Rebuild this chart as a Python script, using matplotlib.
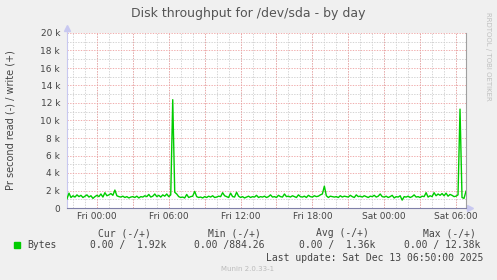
import numpy as np
import matplotlib
matplotlib.use('Agg')
import matplotlib.pyplot as plt
from matplotlib.ticker import FuncFormatter, MultipleLocator

# bytes per second (write), in k, one sample every 10 minutes,
# starting Thu 21:30 (hours relative to Fri 00:00)
start_hour = -2.5
step_hours = 10 / 60.0
write_k = [
    1.05, 1.7, 1.2,
    1.4, 1.25, 1.5, 1.3, 1.45, 1.2,       # Thu 22
    1.35, 1.5, 1.25, 1.4, 1.1, 1.3,       # Thu 23
    1.45, 1.3, 1.6, 1.25, 1.75, 1.4,      # Fri 00
    1.5, 1.65, 1.45, 2.05, 1.4, 1.3,      # Fri 01
    1.25, 1.35, 1.2, 1.3, 1.15, 1.25,     # Fri 02
    1.3, 1.2, 1.35, 1.15, 1.3, 1.25,      # Fri 03
    1.4, 1.3, 1.55, 1.25, 1.35, 1.6,      # Fri 04
    1.3, 1.45, 1.25, 1.5, 1.35, 1.6,      # Fri 05
    1.3, 1.5, 12.38, 1.8, 1.6, 1.3,       # Fri 06
    1.2, 1.25, 1.15, 1.55, 1.2, 1.3,      # Fri 07
    1.35, 1.9, 1.3, 1.2, 1.25, 1.15,      # Fri 08
    1.3, 1.2, 1.35, 1.25, 1.4, 1.2,       # Fri 09
    1.25, 1.35, 1.3, 1.75, 1.4, 1.3,      # Fri 10
    1.2, 1.7, 1.3, 1.25, 1.8, 1.35,       # Fri 11
    1.2, 1.3, 1.15, 1.25, 1.35, 1.2,      # Fri 12
    1.3, 1.25, 1.45, 1.2, 1.3, 1.25,      # Fri 13
    1.35, 1.2, 1.3, 1.5, 1.25, 1.3,       # Fri 14
    1.2, 1.45, 1.3, 1.25, 1.6, 1.3,       # Fri 15
    1.35, 1.25, 1.4, 1.3, 1.2, 1.5,       # Fri 16
    1.3, 1.25, 1.35, 1.2, 1.45, 1.3,      # Fri 17
    1.25, 1.4, 1.3, 1.35, 1.5, 1.6,       # Fri 18
    2.5, 1.4, 1.2, 1.35, 1.3, 1.25,       # Fri 19
    1.3, 1.2, 1.4, 1.25, 1.35, 1.3,       # Fri 20
    1.25, 1.45, 1.3, 1.2, 1.5, 1.3,       # Fri 21
    1.35, 1.25, 1.4, 1.3, 1.2, 1.35,      # Fri 22
    1.3, 1.45, 1.25, 1.35, 1.6, 1.3,      # Fri 23
    1.25, 1.35, 1.2, 1.3, 1.45, 1.15,     # Sat 00
    1.3, 1.25, 1.4, 0.9, 1.3, 1.25,       # Sat 01
    1.35, 1.2, 1.3, 1.5, 1.25, 1.3,       # Sat 02
    1.2, 1.35, 1.3, 1.75, 1.25, 1.4,      # Sat 03
    1.3, 1.75, 1.4, 1.6, 1.45, 1.65,      # Sat 04
    1.4, 1.7, 1.35, 1.55, 1.45, 1.3,      # Sat 05
    1.35, 1.5, 11.3, 1.2, 1.1, 1.92,      # Sat 06
]

xtick_hours = [0, 6, 12, 18, 24, 30]
xtick_labels = ['Fri 00:00', 'Fri 06:00', 'Fri 12:00', 'Fri 18:00', 'Sat 00:00', 'Sat 06:00']

legend_heads = ['Cur (-/+)', 'Min (-/+)', 'Avg (-/+)', 'Max (-/+)']
legend_vals = ['0.00 /  1.92k', '0.00 /884.26', '0.00 /  1.36k', '0.00 / 12.38k']

hours = start_hour + step_hours * np.arange(len(write_k))
values = np.array(write_k) * 1000

W, H = 497, 280
fig = plt.figure(figsize=(W / 100, H / 100), dpi=100, facecolor='#F0F0F0')
ax = fig.add_axes([67 / W, 1 - 208 / H, (466 - 67) / W, (208 - 33) / H])
ax.set_facecolor('white')

txt = '#444444'
ax.plot(hours, values, color='#00CC00', lw=1.0, zorder=3)

ax.set_xlim(start_hour, 30 + 50 / 60)
ax.set_ylim(0, 20000)

# grid like rrdtool: minor gray, major red-ish, dotted
for h in np.arange(-2, 31, 1):
    ax.axvline(h, color='#CCCCCC', lw=0.6, ls=(0, (1.6, 1.6)), zorder=1)
for h in np.arange(0, 31, 3):
    ax.axvline(h, color='#EEA0A0', lw=0.6, ls=(0, (1.6, 1.6)), zorder=2)
for v in np.arange(1000, 20001, 2000):
    ax.axhline(v, color='#CCCCCC', lw=0.6, ls=(0, (1.6, 1.6)), zorder=1)
for v in np.arange(2000, 20001, 2000):
    ax.axhline(v, color='#EEA0A0', lw=0.6, ls=(0, (1.6, 1.6)), zorder=2)

ax.yaxis.set_major_locator(MultipleLocator(2000))
ax.set_xticks(xtick_hours)
ax.set_xticklabels(xtick_labels)
ax.yaxis.set_major_formatter(FuncFormatter(lambda v, p: '0' if v == 0 else '%d k' % (v / 1000)))
ax.tick_params(axis='both', which='both', length=0, labelsize=6.5, colors=txt)
ax.tick_params(axis='y', pad=5)
ax.tick_params(axis='x', pad=3)

ax.spines['top'].set_visible(False)
ax.spines['right'].set_color('#A0A0A0')
ax.spines['bottom'].set_color('#8080A8')
ax.spines['left'].set_color('#C8C8F0')
for s in ax.spines.values():
    s.set_linewidth(0.8)
ax.plot([0, 0], [1, 1.03], color='#C8C8F0', lw=0.8, transform=ax.transAxes, clip_on=False)
ax.plot([0], [1.03], marker='^', ms=4, color='#C8C8F0', transform=ax.transAxes, clip_on=False)
ax.plot([1, 1.01], [0, 0], color='#C8C8F0', lw=0.8, transform=ax.transAxes, clip_on=False)
ax.plot([1.01], [0], marker='>', ms=4, color='#C8C8F0', transform=ax.transAxes, clip_on=False)

def fx(px):
    return px / W

def fy(py):
    return 1 - py / H

fig.text(fx(248), fy(13.5), 'Disk throughput for /dev/sda - by day', ha='center', va='center',
         fontsize=9, color='#555555')
fig.text(fx(11), fy(120), 'Pr second read (-) / write (+)', rotation=90, ha='center', va='center',
         fontsize=7, color=txt)
fig.text(fx(488), fy(56), 'RRDTOOL / TOBI OETIKER', rotation=270, ha='center', va='center',
         fontsize=5, color='#C0C0C0')

mono = 'DejaVu Sans Mono'
head_x = [98, 208, 316, 423]
val_x = [90, 194, 299, 404]
for x, s in zip(head_x, legend_heads):
    fig.text(fx(x), fy(233), s, family=mono, fontsize=7, color=txt, va='center')
fig.patches.append(plt.Rectangle((fx(14), fy(248)), 6 / W, 6 / H, transform=fig.transFigure,
                                 color='#00CC00'))
fig.text(fx(27), fy(245), 'Bytes', family=mono, fontsize=7, color=txt, va='center')
for x, s in zip(val_x, legend_vals):
    fig.text(fx(x), fy(245), s, family=mono, fontsize=7, color=txt, va='center')
fig.text(fx(483), fy(258), 'Last update: Sat Dec 13 06:50:00 2025', family=mono, fontsize=7,
         color=txt, ha='right', va='center')
fig.text(fx(248), fy(269), 'Munin 2.0.33-1', ha='center', va='center', fontsize=5, color='#BBBBBB')

plt.savefig('out.png', dpi=100, facecolor=fig.get_facecolor())
